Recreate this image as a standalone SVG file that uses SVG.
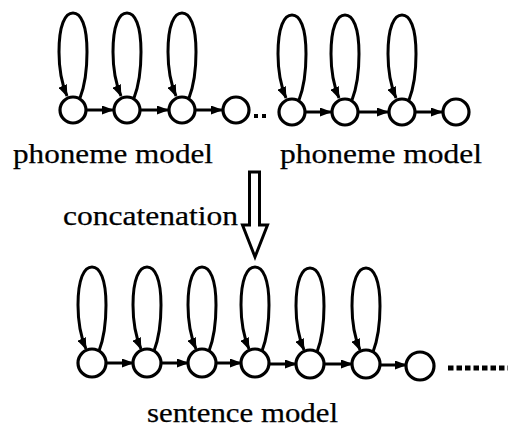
<svg xmlns="http://www.w3.org/2000/svg" width="508" height="432" viewBox="0 0 508 432">
<style>
.st{fill:#fff;stroke:#000;stroke-width:3.2}
.ln{fill:none;stroke:#000;stroke-width:3}
.lb{font-family:"Liberation Serif","Times New Roman",serif;font-size:28px;fill:#000;stroke:#000;stroke-width:0.25}
</style>
<defs>
<marker id="ah" markerUnits="userSpaceOnUse" markerWidth="12" markerHeight="9" refX="11" refY="4.5" orient="auto">
<path d="M0,0 L12,4.5 L0,9 z" fill="#000"/>
</marker>
</defs>
<rect width="508" height="432" fill="#fff"/>
<g id="connectors">
<!-- top-left self loops -->
<path class="ln" marker-end="url(#ah)" d="M80,98 C85,85 87,70 87,52 C87,25 81,13 73,13 C65,13 59,25 59,52 C59,70 61,82 67,96"/>
<path class="ln" marker-end="url(#ah)" d="M134,98 C139,85 141,70 141,52 C141,25 135,13 127,13 C119,13 113,25 113,52 C113,70 115,82 121,96"/>
<path class="ln" marker-end="url(#ah)" d="M189,98 C194,85 196,70 196,52 C196,25 190,13 182,13 C174,13 168,25 168,52 C168,70 170,82 176,96"/>
<!-- top-right self loops -->
<path class="ln" marker-end="url(#ah)" d="M299,100 C304,87 306,72 306,54 C306,27 300,15 292,15 C284,15 278,27 278,54 C278,72 280,84 286,98"/>
<path class="ln" marker-end="url(#ah)" d="M352,100 C357,87 359,72 359,54 C359,27 353,15 345,15 C337,15 331,27 331,54 C331,72 333,84 339,98"/>
<path class="ln" marker-end="url(#ah)" d="M409,100 C414,87 416,72 416,54 C416,27 410,15 402,15 C394,15 388,27 388,54 C388,72 390,84 396,98"/>
<!-- top transitions -->
<line class="ln" marker-end="url(#ah)" x1="87" y1="110" x2="113" y2="110"/>
<line class="ln" marker-end="url(#ah)" x1="141" y1="110" x2="168" y2="110"/>
<line class="ln" marker-end="url(#ah)" x1="196" y1="110" x2="222" y2="110"/>
<line class="ln" marker-end="url(#ah)" x1="306" y1="112" x2="331" y2="112"/>
<line class="ln" marker-end="url(#ah)" x1="359" y1="112" x2="388" y2="112"/>
<line class="ln" marker-end="url(#ah)" x1="416" y1="112" x2="442" y2="112"/>
<!-- bottom self loops -->
<path class="ln" marker-end="url(#ah)" d="M99,351 C104,338 106,323 106,305 C106,279 100,267 92,267 C84,267 78,279 78,305 C78,323 80,335 86,349"/>
<path class="ln" marker-end="url(#ah)" d="M154,351 C159,338 161,323 161,305 C161,279 155,267 147,267 C139,267 133,279 133,305 C133,323 135,335 141,349"/>
<path class="ln" marker-end="url(#ah)" d="M209,351 C214,338 216,323 216,305 C216,279 210,267 202,267 C194,267 188,279 188,305 C188,323 190,335 196,349"/>
<path class="ln" marker-end="url(#ah)" d="M262,351 C267,338 269,323 269,305 C269,279 263,267 255,267 C247,267 241,279 241,305 C241,323 243,335 249,349"/>
<path class="ln" marker-end="url(#ah)" d="M317,352 C322,339 324,324 324,306 C324,280 318,268 310,268 C302,268 296,280 296,306 C296,324 298,336 304,350"/>
<path class="ln" marker-end="url(#ah)" d="M373,352 C378,339 380,324 380,306 C380,280 374,268 366,268 C358,268 352,280 352,306 C352,324 354,336 360,350"/>
<!-- bottom transitions -->
<line class="ln" marker-end="url(#ah)" x1="106" y1="363" x2="133" y2="363"/>
<line class="ln" marker-end="url(#ah)" x1="161" y1="363" x2="188" y2="363"/>
<line class="ln" marker-end="url(#ah)" x1="216" y1="363" x2="241" y2="363"/>
<line class="ln" marker-end="url(#ah)" x1="269" y1="364" x2="296" y2="364"/>
<line class="ln" marker-end="url(#ah)" x1="324" y1="364" x2="352" y2="364"/>
<line class="ln" marker-end="url(#ah)" x1="380" y1="365" x2="406" y2="365"/>
</g>
<g id="top-left-states">
<g id="s1"><circle class="st" cx="73" cy="110" r="13"/></g>
<g id="s2"><circle class="st" cx="127" cy="110" r="13"/></g>
<g id="s3"><circle class="st" cx="182" cy="110" r="13"/></g>
<g id="s4"><circle class="st" cx="236" cy="110" r="13"/></g>
</g>
<g id="ellipsis-top">
<rect x="254" y="114" width="4" height="4" fill="#000"/>
<rect x="262" y="114" width="4" height="4" fill="#000"/>
</g>
<g id="top-right-states">
<g id="s5"><circle class="st" cx="292" cy="112" r="13"/></g>
<g id="s6"><circle class="st" cx="345" cy="112" r="13"/></g>
<g id="s7"><circle class="st" cx="402" cy="112" r="13"/></g>
<g id="s8"><circle class="st" cx="456" cy="112" r="13"/></g>
</g>
<g id="label-phoneme-1"><text class="lb" x="13" y="163" textLength="200" lengthAdjust="spacingAndGlyphs">phoneme model</text></g>
<g id="label-phoneme-2"><text class="lb" x="280" y="163" textLength="202" lengthAdjust="spacingAndGlyphs">phoneme model</text></g>
<g id="concat-arrow">
<polygon points="249.5,172 259.5,172 259.5,225 267.5,225 255,257 242.5,225 249.5,225" fill="#fff" stroke="#000" stroke-width="3" stroke-linejoin="miter"/>
</g>
<g id="label-concat"><text class="lb" x="63" y="225" textLength="175" lengthAdjust="spacingAndGlyphs">concatenation</text></g>
<g id="sentence-states">
<g id="t1"><circle class="st" cx="92" cy="363" r="14"/></g>
<g id="t2"><circle class="st" cx="147" cy="363" r="14"/></g>
<g id="t3"><circle class="st" cx="202" cy="363" r="14"/></g>
<g id="t4"><circle class="st" cx="255" cy="363" r="14"/></g>
<g id="t5"><circle class="st" cx="310" cy="364" r="14"/></g>
<g id="t6"><circle class="st" cx="366" cy="364" r="14"/></g>
<g id="t7"><circle class="st" cx="420" cy="366" r="14"/></g>
</g>
<g id="ellipsis-bottom">
<line x1="448" y1="368" x2="508" y2="368" stroke="#000" stroke-width="5" stroke-dasharray="5.5 3"/>
</g>
<g id="label-sentence"><text class="lb" x="147" y="422" textLength="191" lengthAdjust="spacingAndGlyphs">sentence model</text></g>
</svg>
